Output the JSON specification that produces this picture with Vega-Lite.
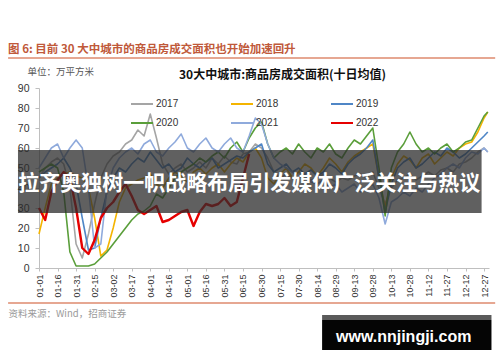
{
  "$schema": "https://vega.github.io/schema/vega-lite/v6.json",
  "width": 450,
  "height": 180,
  "autosize": {"type": "none"},
  "padding": {"left": 39, "top": 88, "right": 11, "bottom": 94},
  "background": "#ffffff",
  "config": {"view": {"stroke": null}, "font": "Noto Sans CJK SC", "axis": {"labelOverlap": false, "grid": false}},
  "datasets": {
    "series": [
      {"date": "2021-01-01", "2017": 45, "2018": 17, "2019": 45, "2020": 48, "2021": 50, "2022": 30},
      {"date": "2021-01-06", "2017": 50, "2018": 30, "2019": 48, "2020": 50, "2021": 55, "2022": 24},
      {"date": "2021-01-11", "2017": 53, "2018": 42, "2019": 50, "2020": 52, "2021": 60, "2022": 38},
      {"date": "2021-01-16", "2017": 55, "2018": 45, "2019": 52, "2020": 50, "2021": 62, "2022": 44},
      {"date": "2021-01-21", "2017": 52, "2018": 47, "2019": 55, "2020": 38, "2021": 55, "2022": 48},
      {"date": "2021-01-26", "2017": 40, "2018": 48, "2019": 50, "2020": 8, "2021": 60, "2022": 45},
      {"date": "2021-01-31", "2017": 12, "2018": 46, "2019": 42, "2020": 1, "2021": 64, "2022": 30},
      {"date": "2021-02-05", "2017": 5, "2018": 45, "2019": 25, "2020": 1, "2021": 60, "2022": 10},
      {"date": "2021-02-10", "2017": 17, "2018": 40, "2019": 9, "2020": 1, "2021": 40, "2022": 7},
      {"date": "2021-02-15", "2017": 32, "2018": 25, "2019": 10, "2020": 2, "2021": 10, "2022": 14},
      {"date": "2021-02-20", "2017": 45, "2018": 6, "2019": 25, "2020": 5, "2021": 12, "2022": 25},
      {"date": "2021-02-25", "2017": 52, "2018": 9, "2019": 38, "2020": 8, "2021": 40, "2022": 30},
      {"date": "2021-03-02", "2017": 56, "2018": 20, "2019": 45, "2020": 12, "2021": 50, "2022": 33},
      {"date": "2021-03-07", "2017": 58, "2018": 33, "2019": 50, "2020": 16, "2021": 55, "2022": 38},
      {"date": "2021-03-12", "2017": 62, "2018": 40, "2019": 48, "2020": 20, "2021": 58, "2022": 42},
      {"date": "2021-03-17", "2017": 64, "2018": 42, "2019": 52, "2020": 24, "2021": 60, "2022": 36},
      {"date": "2021-03-22", "2017": 69, "2018": 44, "2019": 55, "2020": 27, "2021": 57, "2022": 29},
      {"date": "2021-03-27", "2017": 66, "2018": 45, "2019": 53, "2020": 28.5, "2021": 62, "2022": 27},
      {"date": "2021-04-01", "2017": 77, "2018": 47, "2019": 58, "2020": 31, "2021": 64, "2022": 29},
      {"date": "2021-04-06", "2017": 65, "2018": 42, "2019": 54, "2020": 37, "2021": 58, "2022": 31},
      {"date": "2021-04-11", "2017": 52, "2018": 40, "2019": 50, "2020": 35, "2021": 56, "2022": 23},
      {"date": "2021-04-16", "2017": 47, "2018": 45, "2019": 52, "2020": 40, "2021": 60, "2022": 24},
      {"date": "2021-04-21", "2017": 50, "2018": 48, "2019": 48, "2020": 45, "2021": 63, "2022": 26},
      {"date": "2021-04-26", "2017": 52, "2018": 46, "2019": 50, "2020": 48, "2021": 67, "2022": 28},
      {"date": "2021-05-01", "2017": 48, "2018": 43, "2019": 55, "2020": 50, "2021": 60, "2022": 29},
      {"date": "2021-05-06", "2017": 50, "2018": 48, "2019": 52, "2020": 52, "2021": 58, "2022": 21},
      {"date": "2021-05-11", "2017": 53, "2018": 50, "2019": 50, "2020": 55, "2021": 62, "2022": 28},
      {"date": "2021-05-16", "2017": 50, "2018": 47, "2019": 53, "2020": 53, "2021": 65, "2022": 32},
      {"date": "2021-05-21", "2017": 55, "2018": 50, "2019": 55, "2020": 56, "2021": 60, "2022": 31},
      {"date": "2021-05-26", "2017": 52, "2018": 52, "2019": 50, "2020": 58, "2021": 58, "2022": 32},
      {"date": "2021-05-31", "2017": 56, "2018": 48, "2019": 52, "2020": 55, "2021": 62, "2022": 35},
      {"date": "2021-06-05", "2017": 53, "2018": 52, "2019": 54, "2020": 60, "2021": 65, "2022": 31},
      {"date": "2021-06-10", "2017": 52, "2018": 55, "2019": 56, "2020": 63, "2021": 60, "2022": 33},
      {"date": "2021-06-15", "2017": 57, "2018": 53, "2019": 55, "2020": 58, "2021": 58, "2022": 45},
      {"date": "2021-06-20", "2017": 58, "2018": 58, "2019": 58, "2020": 65, "2021": 66, "2022": 57},
      {"date": "2021-06-25", "2017": 62, "2018": 60, "2019": 60, "2020": 70, "2021": 75},
      {"date": "2021-06-30", "2017": 60, "2018": 55, "2019": 62, "2020": 73, "2021": 72},
      {"date": "2021-07-05", "2017": 55, "2018": 45, "2019": 52, "2020": 62, "2021": 62},
      {"date": "2021-07-10", "2017": 48, "2018": 42, "2019": 48, "2020": 55, "2021": 55},
      {"date": "2021-07-15", "2017": 45, "2018": 47, "2019": 50, "2020": 58, "2021": 52},
      {"date": "2021-07-20", "2017": 47, "2018": 50, "2019": 52, "2020": 60, "2021": 50},
      {"date": "2021-07-25", "2017": 45, "2018": 45, "2019": 48, "2020": 57, "2021": 48},
      {"date": "2021-07-30", "2017": 48, "2018": 48, "2019": 50, "2020": 62, "2021": 45},
      {"date": "2021-08-04", "2017": 46, "2018": 52, "2019": 47, "2020": 58, "2021": 47},
      {"date": "2021-08-09", "2017": 44, "2018": 50, "2019": 49, "2020": 55, "2021": 43},
      {"date": "2021-08-14", "2017": 45, "2018": 46, "2019": 46, "2020": 60, "2021": 42},
      {"date": "2021-08-19", "2017": 47, "2018": 50, "2019": 48, "2020": 58, "2021": 44},
      {"date": "2021-08-24", "2017": 45, "2018": 55, "2019": 52, "2020": 62, "2021": 40},
      {"date": "2021-08-29", "2017": 43, "2018": 52, "2019": 50, "2020": 57, "2021": 42},
      {"date": "2021-09-03", "2017": 45, "2018": 48, "2019": 47, "2020": 55, "2021": 38},
      {"date": "2021-09-08", "2017": 44, "2018": 53, "2019": 52, "2020": 60, "2021": 40},
      {"date": "2021-09-13", "2017": 46, "2018": 56, "2019": 55, "2020": 64, "2021": 42},
      {"date": "2021-09-18", "2017": 47, "2018": 58, "2019": 57, "2020": 62, "2021": 38},
      {"date": "2021-09-23", "2017": 45, "2018": 60, "2019": 60, "2020": 66, "2021": 40},
      {"date": "2021-09-28", "2017": 48, "2018": 62, "2019": 64, "2020": 70, "2021": 42},
      {"date": "2021-10-03", "2017": 40, "2018": 45, "2019": 45, "2020": 50, "2021": 35},
      {"date": "2021-10-08", "2017": 32, "2018": 30, "2019": 28, "2020": 26, "2021": 22},
      {"date": "2021-10-13", "2017": 40, "2018": 45, "2019": 42, "2020": 50, "2021": 33},
      {"date": "2021-10-18", "2017": 44, "2018": 52, "2019": 50, "2020": 58, "2021": 35},
      {"date": "2021-10-23", "2017": 45, "2018": 56, "2019": 53, "2020": 62, "2021": 38},
      {"date": "2021-10-28", "2017": 47, "2018": 54, "2019": 55, "2020": 68, "2021": 36},
      {"date": "2021-11-02", "2017": 44, "2018": 50, "2019": 50, "2020": 62, "2021": 40},
      {"date": "2021-11-07", "2017": 46, "2018": 55, "2019": 52, "2020": 58, "2021": 38},
      {"date": "2021-11-12", "2017": 48, "2018": 57, "2019": 55, "2020": 60, "2021": 42},
      {"date": "2021-11-17", "2017": 46, "2018": 52, "2019": 58, "2020": 57, "2021": 45},
      {"date": "2021-11-22", "2017": 49, "2018": 55, "2019": 56, "2020": 60, "2021": 47},
      {"date": "2021-11-27", "2017": 50, "2018": 58, "2019": 60, "2020": 62, "2021": 50},
      {"date": "2021-12-02", "2017": 48, "2018": 56, "2019": 58, "2020": 58, "2021": 52},
      {"date": "2021-12-07", "2017": 52, "2018": 60, "2019": 55, "2020": 60, "2021": 50},
      {"date": "2021-12-12", "2017": 53, "2018": 62, "2019": 57, "2020": 63, "2021": 55},
      {"date": "2021-12-17", "2017": 55, "2018": 63, "2019": 60, "2020": 64, "2021": 58},
      {"date": "2021-12-22", "2017": 58, "2018": 68, "2019": 63, "2020": 70, "2021": 57},
      {"date": "2021-12-27", "2017": 60, "2018": 75, "2019": 66, "2020": 76, "2021": 60},
      {"date": "2021-12-30", "2017": 58, "2018": 78, "2019": 68, "2020": 78, "2021": 58}
    ]
  },
  "layer": [
    {
      "data": {"name": "series"},
      "transform": [{"fold": ["2017", "2018", "2019", "2020", "2021", "2022"], "as": ["year", "value"]}],
      "mark": {"type": "line", "strokeJoin": "round"},
      "encoding": {
        "x": {
          "field": "date",
          "type": "temporal",
          "scale": {"domain": [{"year": 2021, "month": 1, "date": 1}, {"year": 2021, "month": 12, "date": 31}], "nice": false},
          "axis": {
            "values": [
              {"year": 2021, "month": 1, "date": 1}, {"year": 2021, "month": 1, "date": 16}, {"year": 2021, "month": 1, "date": 31},
              {"year": 2021, "month": 2, "date": 15}, {"year": 2021, "month": 3, "date": 2}, {"year": 2021, "month": 3, "date": 17},
              {"year": 2021, "month": 4, "date": 1}, {"year": 2021, "month": 4, "date": 16}, {"year": 2021, "month": 5, "date": 1},
              {"year": 2021, "month": 5, "date": 16}, {"year": 2021, "month": 5, "date": 31}, {"year": 2021, "month": 6, "date": 15},
              {"year": 2021, "month": 6, "date": 30}, {"year": 2021, "month": 7, "date": 15}, {"year": 2021, "month": 7, "date": 30},
              {"year": 2021, "month": 8, "date": 14}, {"year": 2021, "month": 8, "date": 29}, {"year": 2021, "month": 9, "date": 13},
              {"year": 2021, "month": 9, "date": 28}, {"year": 2021, "month": 10, "date": 13}, {"year": 2021, "month": 10, "date": 28},
              {"year": 2021, "month": 11, "date": 12}, {"year": 2021, "month": 11, "date": 27}, {"year": 2021, "month": 12, "date": 12},
              {"year": 2021, "month": 12, "date": 27}
            ],
            "tickCount": 100,
            "format": "%m-%d",
            "labelAngle": -90,
            "labelFont": "Liberation Sans",
            "labelFontSize": 9,
            "labelColor": "#333333",
            "labelPadding": 3,
            "labelOverlap": false,
            "labelFlush": false,
            "tickSize": 3,
            "tickColor": "#bfbfbf",
            "domainColor": "#bfbfbf",
            "grid": false,
            "title": "资料来源：Wind，招商证券",
            "titleX": -31,
            "titleY": 45,
            "titleAngle": 0,
            "titleAlign": "left",
            "titleBaseline": "middle",
            "titleFont": "Noto Sans CJK SC",
            "titleFontSize": 9.5,
            "titleFontWeight": "normal",
            "titleColor": "#9a9a9a"
          }
        },
        "y": {
          "field": "value",
          "type": "quantitative",
          "scale": {"domain": [0, 90], "nice": false, "zero": false},
          "axis": {
            "values": [0, 10, 20, 30, 40, 50, 60, 70, 80, 90],
            "tickCount": 100,
            "labelFont": "Liberation Sans",
            "labelFontSize": 10.5,
            "labelColor": "#333333",
            "labelPadding": 6,
            "labelOverlap": false,
            "tickSize": 4,
            "tickColor": "#bfbfbf",
            "domainColor": "#bfbfbf",
            "grid": false,
            "title": "单位：万平方米",
            "titleX": -12,
            "titleY": -17,
            "titleAngle": 0,
            "titleAlign": "left",
            "titleBaseline": "middle",
            "titleFont": "Noto Sans CJK SC",
            "titleFontSize": 9.5,
            "titleFontWeight": "normal",
            "titleColor": "#555555"
          }
        },
        "color": {
          "field": "year",
          "type": "nominal",
          "scale": {
            "domain": ["2017", "2018", "2019", "2020", "2021", "2022"],
            "range": ["#A5A5A5", "#F4B400", "#4F86C6", "#5A9E3A", "#8FAADC", "#E60000"]
          },
          "legend": {
            "orient": "none",
            "legendX": 91,
            "legendY": 4,
            "columns": 3,
            "direction": "horizontal",
            "title": null,
            "symbolType": "stroke",
            "symbolSize": 484,
            "symbolStrokeWidth": 2,
            "labelFont": "Liberation Sans",
            "labelFontSize": 10,
            "labelColor": "#333333",
            "labelOffset": 2,
            "columnPadding": 48,
            "rowPadding": 2
          }
        },
        "strokeWidth": {"condition": {"test": "datum.year === '2022'", "value": 2.4}, "value": 1.6}
      }
    },
    {
      "data": {"values": [{"t": "banner"}]},
      "mark": {"type": "rect", "fill": "#2b2b2b", "opacity": 0.75},
      "encoding": {
        "x": {"datum": {"year": 2020, "month": 12, "date": 15}, "type": "temporal"},
        "x2": {"datum": {"year": 2021, "month": 12, "date": 25}},
        "y": {"datum": 59, "type": "quantitative"},
        "y2": {"datum": 27.5}
      }
    },
    {
      "data": {"values": [{"t": "拉齐奥独树一帜战略布局引发媒体广泛关注与热议"}]},
      "mark": {"type": "text", "align": "center", "baseline": "middle", "font": "Noto Sans CJK SC", "fontWeight": "bold", "fontSize": 21, "color": "#ffffff"},
      "encoding": {
        "x": {"datum": {"year": 2021, "month": 6, "date": 20}, "type": "temporal"},
        "y": {"datum": 42, "type": "quantitative"},
        "text": {"field": "t"}
      }
    },
    {
      "data": {"values": [{"t": "图 6: 目前 30 大中城市的商品房成交面积也开始加速回升"}]},
      "mark": {"type": "text", "align": "left", "baseline": "middle", "font": "Noto Sans CJK SC", "fontWeight": "bold", "fontSize": 11.5, "color": "#C0593A"},
      "encoding": {
        "x": {"datum": {"year": 2020, "month": 12, "date": 7}, "type": "temporal"},
        "y": {"datum": 109, "type": "quantitative"},
        "text": {"field": "t"}
      }
    },
    {
      "data": {"values": [{"t": "30大中城市:商品房成交面积(十日均值)"}]},
      "mark": {"type": "text", "align": "center", "baseline": "middle", "font": "Noto Sans CJK SC", "fontWeight": "bold", "fontSize": 12, "color": "#111111"},
      "encoding": {
        "x": {"datum": {"year": 2021, "month": 7, "date": 17}, "type": "temporal"},
        "y": {"datum": 96.5, "type": "quantitative"},
        "text": {"field": "t"}
      }
    },
    {
      "data": {"values": [{"t": "top rule"}]},
      "mark": {"type": "rule", "color": "#DE8A6E", "strokeWidth": 1.5},
      "encoding": {
        "x": {"datum": {"year": 2020, "month": 12, "date": 7}, "type": "temporal"},
        "x2": {"datum": {"year": 2022, "month": 1, "date": 5}},
        "y": {"datum": 105, "type": "quantitative"}
      }
    },
    {
      "data": {"values": [{"t": "bottom rule"}]},
      "mark": {"type": "rule", "color": "#DE8A6E", "strokeWidth": 1.5},
      "encoding": {
        "x": {"datum": {"year": 2020, "month": 12, "date": 7}, "type": "temporal"},
        "x2": {"datum": {"year": 2022, "month": 1, "date": 5}},
        "y": {"datum": -17.5, "type": "quantitative"}
      }
    },
    {
      "data": {"values": [{"t": "watermark band"}]},
      "mark": {"type": "rect", "fill": "#5a5a5a"},
      "encoding": {
        "x": {"datum": {"year": 2021, "month": 8, "date": 18}, "type": "temporal"},
        "x2": {"datum": {"year": 2022, "month": 1, "date": 2}},
        "y": {"datum": -23.5, "type": "quantitative"},
        "y2": {"datum": -26}
      }
    },
    {
      "data": {"values": [{"t": "watermark box"}]},
      "mark": {"type": "rect", "fill": "#050505"},
      "encoding": {
        "x": {"datum": {"year": 2021, "month": 8, "date": 18}, "type": "temporal"},
        "x2": {"datum": {"year": 2022, "month": 1, "date": 2}},
        "y": {"datum": -26, "type": "quantitative"},
        "y2": {"datum": -41}
      }
    },
    {
      "data": {"values": [{"t": "www.nnjingji.com"}]},
      "mark": {"type": "text", "align": "center", "baseline": "middle", "font": "Liberation Sans", "fontWeight": "bold", "fontSize": 16, "color": "#ffffff"},
      "encoding": {
        "x": {"datum": {"year": 2021, "month": 10, "date": 23}, "type": "temporal"},
        "y": {"datum": -34.5, "type": "quantitative"},
        "text": {"field": "t"}
      }
    }
  ]
}
